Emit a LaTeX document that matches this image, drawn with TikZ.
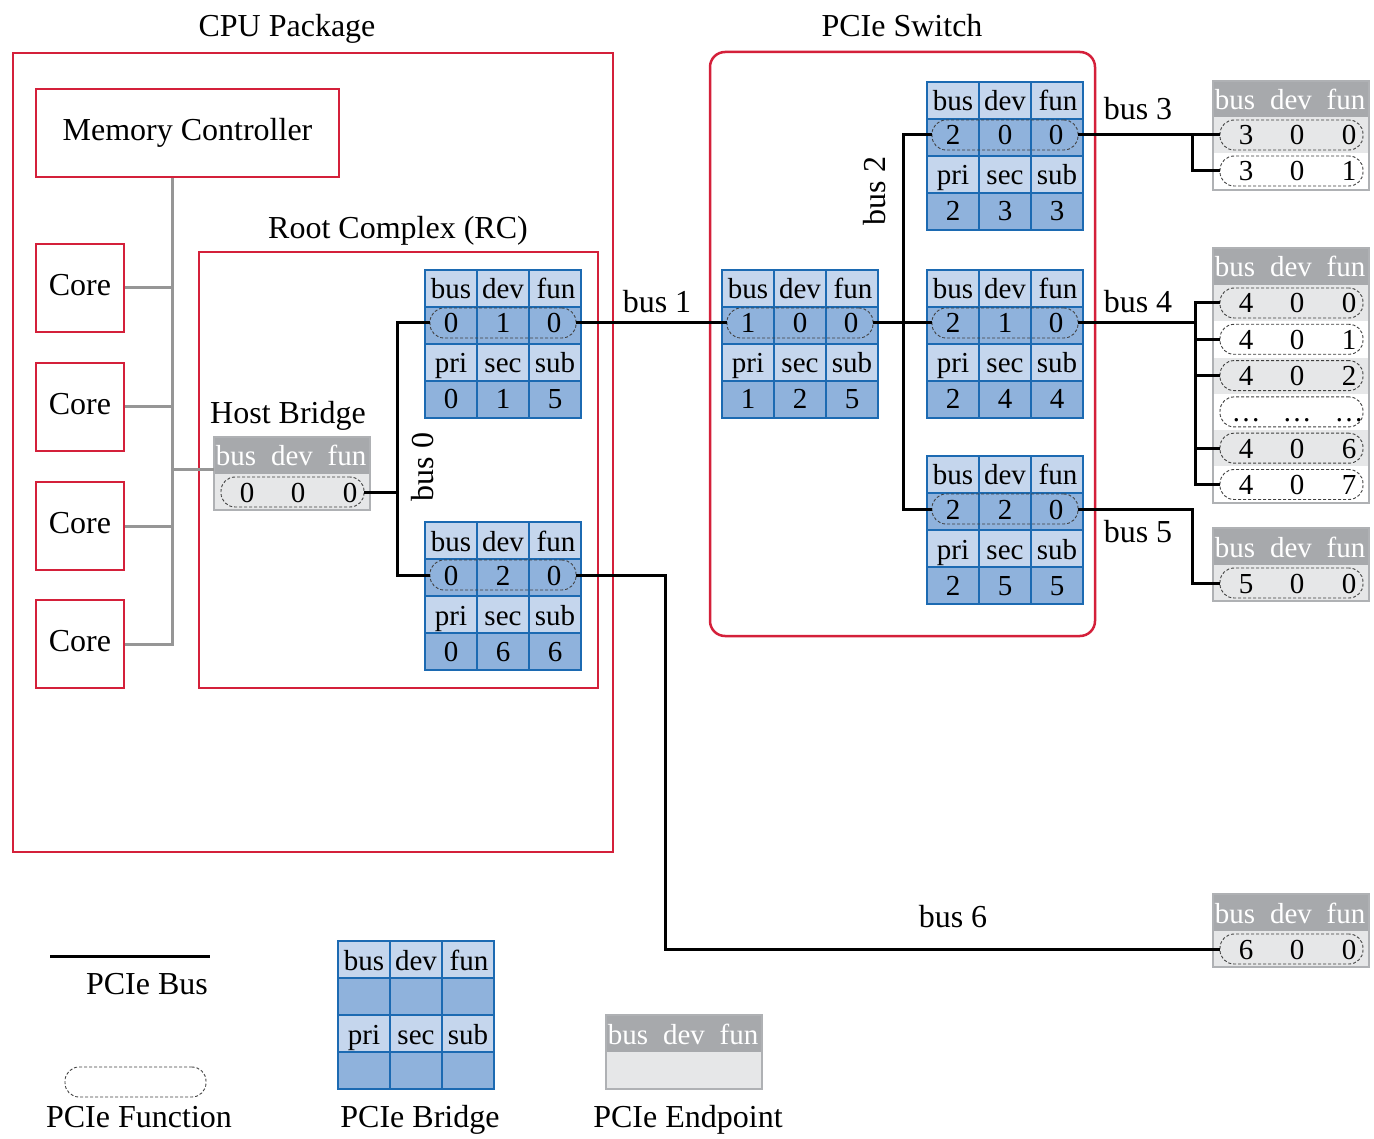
\documentclass[tikz,border=0pt]{standalone}
\usepackage{fontspec}
\setmainfont{Liberation Serif}
\definecolor{cpured}{RGB}{212,32,58}
\definecolor{bblue}{RGB}{28,106,178}
\definecolor{blight}{RGB}{197,214,237}
\definecolor{bdark}{RGB}{143,178,220}
\definecolor{egray}{RGB}{167,169,172}
\definecolor{eborder}{RGB}{175,177,180}
\definecolor{elight}{RGB}{230,231,232}
\definecolor{corebus}{RGB}{150,150,150}
\tikzset{
 lbltext/.style={font=\fontsize{32}{38}\selectfont, inner sep=0pt, text height=22pt, text depth=7pt},
 lbl/.style={lbltext, yshift=-4pt},
 cell/.style={font=\fontsize{29}{34}\selectfont, inner sep=0pt, text height=20pt, text depth=6pt, yshift=-3pt},
 ehtext/.style={cell, text=white},
 redbox/.style={draw=cpured, line width=2.5pt},
 pcibus/.style={line width=3pt, black},
 corebusline/.style={draw=corebus, line width=3pt},
 fnpill/.style={draw=black!75, dash pattern=on 3pt off 2pt, line width=0.9pt, rounded corners=14pt, minimum height=30pt, inner sep=0pt, outer sep=0pt},
 ephd/.style={fill=egray, minimum width=156pt, minimum height=37pt, inner sep=0pt, outer sep=0pt},
 epborder/.style={draw=eborder, line width=2pt},
 bgrid/.style={draw=bblue, line width=2.8pt}
}
\newcommand{\bridgeframe}[3]{%
 \fill[blight] (#2,#3) rectangle ++(156,148);
 \fill[bdark] (#2,#3+37) rectangle ++(156,37);
 \fill[bdark] (#2,#3+111) rectangle ++(156,37);
 \draw[bgrid] (#2,#3) rectangle ++(156,148)
   (#2+52,#3) -- ++(0,148) (#2+104,#3) -- ++(0,148)
   (#2,#3+37) -- ++(156,0) (#2,#3+74) -- ++(156,0) (#2,#3+111) -- ++(156,0);
 \node[cell] (#1-hb) at (#2+26,#3+19) {bus};
 \node[cell] (#1-hd) at (#2+78,#3+19) {dev};
 \node[cell] (#1-hf) at (#2+131,#3+19) {fun};
 \node[cell] (#1-hp) at (#2+26,#3+93) {pri};
 \node[cell] (#1-hs) at (#2+78,#3+93) {sec};
 \node[cell] (#1-hu) at (#2+130,#3+93) {sub};
}
\newcommand{\pcibridge}[9]{%
 \bridgeframe{#1}{#2}{#3}
 \node[cell] (#1-b) at (#2+26,#3+53) {#4};
 \node[cell] (#1-d) at (#2+78,#3+53) {#5};
 \node[cell] (#1-f) at (#2+129,#3+53) {#6};
 \node[cell] (#1-p) at (#2+26,#3+129) {#7};
 \node[cell] (#1-s) at (#2+78,#3+129) {#8};
 \node[cell] (#1-u) at (#2+130,#3+129) {#9};
 \node[fnpill, minimum width=146pt] (#1) at (#2+78,#3+53) {};
}
\newcommand{\ephead}[3]{%
 \node[ephd, anchor=north west] (#1) at (#2,#3) {};
 \node[ehtext] (#1-b) at (#2+22,#3+19) {bus};
 \node[ehtext] (#1-d) at (#2+78,#3+19) {dev};
 \node[ehtext] (#1-f) at (#2+133,#3+19) {fun};
}
\newcommand{\eprow}[7]{%
 \fill[#4] (#2,#3) rectangle ++(156,36);
 \node[cell] (#1-a) at (#2+33,#3+18) {#5};
 \node[cell] (#1-b) at (#2+84,#3+18) {#6};
 \node[cell] (#1-c) at (#2+136,#3+18) {#7};
 \node[fnpill, minimum width=143pt] (#1) at (#2+78.5,#3+18) {};
}
\begin{document}
\begin{tikzpicture}[x=1pt,y=-1pt]
\useasboundingbox (0,0) rectangle (1374,1139);

% CPU package
\draw[redbox] (13,53) rectangle (613,852);
\node[lbl] (cpulbl) at (287,25) {CPU Package};
\node[redbox, lbltext, minimum width=303pt, minimum height=88pt] (mc) at (187.5,133) {Memory Controller};
\node[redbox, lbltext, minimum width=88pt, minimum height=88pt] (c1) at (80,288) {Core};
\node[redbox, lbltext, minimum width=88pt, minimum height=88pt] (c2) at (80,407) {Core};
\node[redbox, lbltext, minimum width=88pt, minimum height=88pt] (c3) at (80,526) {Core};
\node[redbox, lbltext, minimum width=88pt, minimum height=88pt] (c4) at (80,644) {Core};

% Root complex
\draw[redbox] (199,252) rectangle (598,688);
\node[lbl] (rclbl) at (398,227) {Root Complex (RC)};
\node[lbl] (hblbl) at (288,412) {Host Bridge};

% host bridge endpoint
\ephead{hbh}{214}{437}
\eprow{hb}{214}{474}{elight}{0}{0}{0}
\draw[epborder] (214,437) rectangle (370,510);

% core bus
\coordinate (jc) at (172,400);
\draw[corebusline] (mc.south -| jc) -- (c4.east -| jc) -- (c4.east);
\draw[corebusline] (c1.east) -- (c1.east -| jc);
\draw[corebusline] (c2.east) -- (c2.east -| jc);
\draw[corebusline] (c3.east) -- (c3.east -| jc);
\draw[corebusline] ([yshift=4pt]hbh.south west -| jc) -- ([yshift=4pt]hbh.south west);

% bridges in RC
\pcibridge{b010}{425}{270}{0}{1}{0}{0}{1}{5}
\pcibridge{b020}{425}{522}{0}{2}{0}{0}{6}{6}

% PCIe switch
\draw[redbox, rounded corners=15pt] (710,52) rectangle (1095,636);
\node[lbl] (swlbl) at (902,25) {PCIe Switch};
\pcibridge{s100}{722}{270}{1}{0}{0}{1}{2}{5}
\pcibridge{s200}{927}{82}{2}{0}{0}{2}{3}{3}
\pcibridge{s210}{927}{270}{2}{1}{0}{2}{4}{4}
\pcibridge{s220}{927}{456}{2}{2}{0}{2}{5}{5}

% endpoints bus 3
\ephead{e3h}{1213}{81}
\eprow{e300}{1213}{117}{elight}{3}{0}{0}
\eprow{e301}{1213}{153}{white}{3}{0}{1}
\draw[epborder] (1213,81) rectangle (1369,190);

% endpoints bus 4
\ephead{e4h}{1213}{248}
\eprow{e400}{1213}{285}{elight}{4}{0}{0}
\eprow{e401}{1213}{321.3}{white}{4}{0}{1}
\eprow{e402}{1213}{357.6}{elight}{4}{0}{2}
\eprow{e40x}{1213}{393.9}{white}{…}{…}{…}
\eprow{e406}{1213}{430.2}{elight}{4}{0}{6}
\eprow{e407}{1213}{466.5}{white}{4}{0}{7}
\draw[epborder] (1213,248) rectangle (1369,502.5);

% endpoint bus 5
\ephead{e5h}{1213}{528}
\eprow{e500}{1213}{565}{elight}{5}{0}{0}
\draw[epborder] (1213,528) rectangle (1369,601);

% endpoint bus 6
\ephead{e6h}{1213}{894}
\eprow{e600}{1213}{931}{elight}{6}{0}{0}
\draw[epborder] (1213,894) rectangle (1369,967);

% bus 0
\coordinate (j0) at (397,492);
\draw[pcibus] (hb.east) -- (j0);
\draw[pcibus] (b010.west) -| (j0) |- (b020.west);
\node[lbltext, rotate=90] (bus0) at (426,467) {bus 0};

% bus 1
\draw[pcibus] (b010.east) -- (s100.west);
\node[lbl] (bus1) at (657,301) {bus 1};

% bus 2
\coordinate (j2) at (903,323);
\draw[pcibus] (s100.east) -- (s210.west);
\draw[pcibus] (s200.west) -| (j2) |- (s220.west);
\node[lbltext, rotate=90] (bus2) at (878,191) {bus 2};

% bus 3
\coordinate (j3) at (1192,135);
\draw[pcibus] (s200.east) -- (e300.west);
\draw[pcibus] (j3) |- (e301.west);
\node[lbl] (bus3) at (1138,108) {bus 3};

% bus 4
\coordinate (j4) at (1195,323);
\draw[pcibus] (s210.east) -- (j4);
\draw[pcibus] (e400.west) -| (j4) |- (e407.west);
\draw[pcibus] (e401.west) -- (e401.west -| j4);
\draw[pcibus] (e402.west) -- (e402.west -| j4);
\draw[pcibus] (e406.west) -- (e406.west -| j4);
\node[lbl] (bus4) at (1138,301) {bus 4};

% bus 5
\coordinate (j5) at (1192,550);
\draw[pcibus] (s220.east) -| (j5) |- (e500.west);
\node[lbl] (bus5) at (1138,531) {bus 5};

% bus 6
\coordinate (j6) at (665,700);
\draw[pcibus] (b020.east) -| (j6) |- (e600.west);
\node[lbl] (bus6) at (953,916) {bus 6};

% legend
\coordinate (lg1) at (50,956);
\coordinate (lg2) at (210,956);
\draw[pcibus] (lg1) -- (lg2);
\node[lbl] (lgbus) at (147,983) {PCIe Bus};
\node[fnpill, minimum width=141pt] (lgfn) at (135.5,1082) {};
\node[lbl] (lgfnl) at (139,1116) {PCIe Function};
\bridgeframe{lgb}{338}{941}
\node[lbl] (lgbl) at (420,1116) {PCIe Bridge};
\ephead{lgeh}{606}{1015}
\fill[elight] (606,1052) rectangle ++(156,37);
\draw[epborder] (606,1015) rectangle (762,1089);
\node[lbl] (lgel) at (688,1116) {PCIe Endpoint};
\end{tikzpicture}
\end{document}
